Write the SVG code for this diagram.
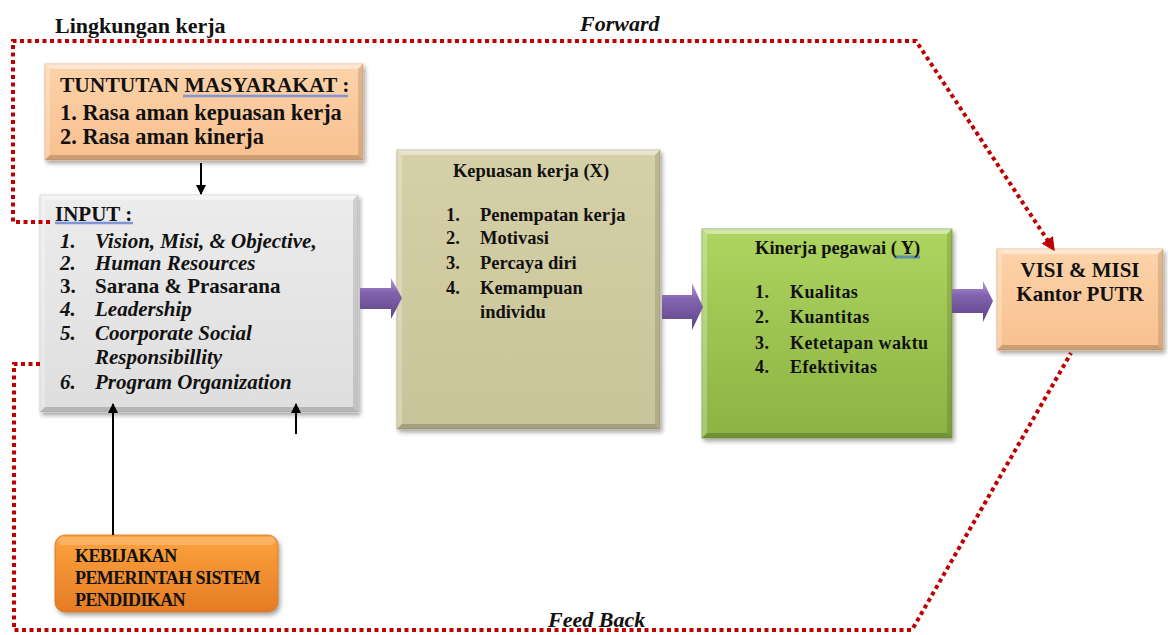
<svg xmlns="http://www.w3.org/2000/svg" width="1168" height="635" viewBox="0 0 1168 635">
  <defs>
    <linearGradient id="gPeach" x1="0" y1="0" x2="0" y2="1">
      <stop offset="0" stop-color="#fcd3aa"/>
      <stop offset="1" stop-color="#f8c08e"/>
    </linearGradient>
    <linearGradient id="gGray" x1="0" y1="0" x2="0" y2="1">
      <stop offset="0" stop-color="#ececec"/>
      <stop offset="1" stop-color="#dedede"/>
    </linearGradient>
    <linearGradient id="gTan" x1="0" y1="0" x2="0" y2="1">
      <stop offset="0" stop-color="#d6d0a8"/>
      <stop offset="1" stop-color="#c9c399"/>
    </linearGradient>
    <linearGradient id="gGreen" x1="0" y1="0" x2="0" y2="1">
      <stop offset="0" stop-color="#add55f"/>
      <stop offset="1" stop-color="#8cb244"/>
    </linearGradient>
    <linearGradient id="gOrange" x1="0" y1="0" x2="0" y2="1">
      <stop offset="0" stop-color="#fda33e"/>
      <stop offset="1" stop-color="#e57c25"/>
    </linearGradient>
    <linearGradient id="gPurple" x1="0" y1="0" x2="0" y2="1">
      <stop offset="0" stop-color="#b197d6"/>
      <stop offset="0.35" stop-color="#8264ae"/>
      <stop offset="1" stop-color="#5e4386"/>
    </linearGradient>
    <filter id="shadow" x="-10%" y="-10%" width="125%" height="130%">
      <feDropShadow dx="2" dy="3" stdDeviation="2" flood-color="#000" flood-opacity="0.35"/>
    </filter>
    <marker id="arrowBlack" viewBox="0 0 10 10" refX="9" refY="5" markerWidth="5" markerHeight="5" orient="auto">
      <path d="M0,0 L10,5 L0,10 z" fill="#000"/>
    </marker>
    <marker id="arrowRed" viewBox="0 0 10 10" refX="9" refY="5" markerWidth="3.4" markerHeight="3.4" orient="auto" markerUnits="strokeWidth">
      <path d="M0,0 L10,5 L0,10 z" fill="#c00000"/>
    </marker>
  </defs>
  <style>
    text { font-family: "Liberation Serif", "Times New Roman", serif; font-weight: bold; fill: #111; }
    .it { font-style: italic; }
    .dots { fill: none; stroke: #c00000; stroke-width: 4; stroke-dasharray: 4 3.5; }
    .link { fill: none; stroke: #000; stroke-width: 2; }
    .hiT { fill: #fff; fill-opacity: 0.45; }
    .hiL { fill: #fff; fill-opacity: 0.25; }
    .loB { fill: #000; fill-opacity: 0.18; }
    .loR { fill: #000; fill-opacity: 0.12; }
    .squig { stroke: #7f95d6; stroke-width: 2.5; fill: none; }
  </style>

  <rect width="1168" height="635" fill="#fff"/>

  <!-- Frame labels -->
  <text x="55" y="33" font-size="22">Lingkungan kerja</text>
  <text x="580" y="31" font-size="22" class="it">Forward</text>
  <text x="548" y="627" font-size="22" class="it">Feed Back</text>

  <!-- Tuntutan masyarakat -->
  <g id="tuntutan">
    <g filter="url(#shadow)">
      <rect x="45" y="64" width="318" height="96" fill="url(#gPeach)" stroke="#e6ad7c" stroke-width="0.8"/>
    </g>
    <polygon class="hiT" points="45,64 363,64 358,69 50,69"/>
    <polygon class="hiL" points="45,64 50,69 50,155 45,160"/>
    <polygon class="loB" points="45,160 50,155 358,155 363,160"/>
    <polygon class="loR" points="363,64 358,69 358,155 363,160"/>
    <line class="squig" x1="183" y1="96" x2="348" y2="96"/>
    <text x="60" y="92" font-size="21.5">TUNTUTAN MASYARAKAT :</text>
    <text x="60" y="120" font-size="22.4">1. Rasa aman kepuasan kerja</text>
    <text x="60" y="144" font-size="22.4">2. Rasa aman kinerja</text>
  </g>

  <!-- Input -->
  <g id="input">
    <g filter="url(#shadow)">
      <rect x="40" y="195" width="318" height="217" fill="url(#gGray)" stroke="#c8c8c8" stroke-width="0.8"/>
    </g>
    <polygon class="hiT" points="40,195 358,195 353,200 45,200"/>
    <polygon class="hiL" points="40,195 45,200 45,407 40,412"/>
    <polygon class="loB" points="40,412 45,407 353,407 358,412"/>
    <polygon class="loR" points="358,195 353,200 353,407 358,412"/>
    <line class="squig" x1="55" y1="223" x2="133" y2="223"/>
    <text x="55" y="221" font-size="21">INPUT :</text>
    <g font-size="21">
      <text x="60" y="248" class="it">1.</text><text x="95" y="248" class="it">Vision, Misi, &amp; Objective,</text>
      <text x="60" y="270" class="it">2.</text><text x="95" y="270" class="it">Human Resources</text>
      <text x="60" y="293">3.</text><text x="95" y="293">Sarana &amp; Prasarana</text>
      <text x="60" y="316" class="it">4.</text><text x="95" y="316" class="it">Leadership</text>
      <text x="60" y="340" class="it">5.</text><text x="95" y="340" class="it">Coorporate Social</text>
      <text x="95" y="364" class="it">Responsibillity</text>
      <text x="60" y="389" class="it">6.</text><text x="95" y="389" class="it">Program Organization</text>
    </g>
  </g>

  <!-- Kepuasan kerja -->
  <g id="kepuasan">
    <g filter="url(#shadow)">
      <rect x="397" y="150" width="263" height="279" fill="url(#gTan)" stroke="#aea77e" stroke-width="0.8"/>
    </g>
    <polygon class="hiT" points="397,150 660,150 655,155 402,155"/>
    <polygon class="hiL" points="397,150 402,155 402,424 397,429"/>
    <polygon class="loB" points="397,429 402,424 655,424 660,429"/>
    <polygon class="loR" points="660,150 655,155 655,424 660,429"/>
    <text x="531" y="177" font-size="18.5" text-anchor="middle">Kepuasan kerja (X)</text>
    <g font-size="18.5">
      <text x="446" y="221">1.</text><text x="480" y="221">Penempatan kerja</text>
      <text x="446" y="244">2.</text><text x="480" y="244">Motivasi</text>
      <text x="446" y="269">3.</text><text x="480" y="269">Percaya diri</text>
      <text x="446" y="294">4.</text><text x="480" y="294">Kemampuan</text>
      <text x="480" y="318">individu</text>
    </g>
  </g>

  <!-- Kinerja pegawai -->
  <g id="kinerja">
    <g filter="url(#shadow)">
      <rect x="702" y="229" width="250" height="209" fill="url(#gGreen)" stroke="#7a9c3c" stroke-width="0.8"/>
    </g>
    <polygon class="hiT" points="702,229 952,229 947,234 707,234"/>
    <polygon class="hiL" points="702,229 707,234 707,433 702,438"/>
    <polygon class="loB" points="702,438 707,433 947,433 952,438"/>
    <polygon class="loR" points="952,229 947,234 947,433 952,438"/>
    <line x1="894" y1="257" x2="920" y2="257" stroke="#5f8fa8" stroke-width="3"/>
    <text x="755" y="254" font-size="18.5">Kinerja pegawai ( Y)</text>
    <g font-size="18" letter-spacing="0.4">
      <text x="755" y="298">1.</text><text x="790" y="298">Kualitas</text>
      <text x="755" y="323">2.</text><text x="790" y="323">Kuantitas</text>
      <text x="755" y="349">3.</text><text x="790" y="349">Ketetapan waktu</text>
      <text x="755" y="373">4.</text><text x="790" y="373">Efektivitas</text>
    </g>
  </g>

  <!-- Visi & Misi -->
  <g id="visi">
    <g filter="url(#shadow)">
      <rect x="997" y="249" width="166" height="101" fill="url(#gPeach)" stroke="#e6ad7c" stroke-width="0.8"/>
    </g>
    <polygon class="hiT" points="997,249 1163,249 1158,254 1002,254"/>
    <polygon class="hiL" points="997,249 1002,254 1002,345 997,350"/>
    <polygon class="loB" points="997,350 1002,345 1158,345 1163,350"/>
    <polygon class="loR" points="1163,249 1158,254 1158,345 1163,350"/>
    <text x="1080" y="277" font-size="21" text-anchor="middle">VISI &amp; MISI</text>
    <text x="1080" y="301" font-size="21" text-anchor="middle">Kantor PUTR</text>
  </g>

  <!-- Kebijakan pemerintah -->
  <g id="kebijakan">
    <g filter="url(#shadow)">
      <rect x="55" y="535" width="223" height="77" rx="10" ry="10" fill="url(#gOrange)" stroke="#d27020" stroke-width="0.8"/>
    </g>
    <rect x="58" y="537" width="217" height="8" rx="5" fill="#fff" fill-opacity="0.2"/>
    <g font-size="18" letter-spacing="-0.6">
      <text x="75" y="562">KEBIJAKAN</text>
      <text x="75" y="584">PEMERINTAH SISTEM</text>
      <text x="75" y="606">PENDIDIKAN</text>
    </g>
  </g>

  <!-- Connectors -->
  <g id="connectors">
    <!-- forward / feedback loop -->
    <path class="dots" d="M50,222 H13 V41 H916 L1054,250" marker-end="url(#arrowRed)"/>
    <path class="dots" d="M40,364 H14 V630 H912 L1071,353"/>

    <!-- black arrows -->
    <line class="link" x1="201" y1="163" x2="201" y2="194" marker-end="url(#arrowBlack)"/>
    <line class="link" x1="113" y1="535" x2="113" y2="404" marker-end="url(#arrowBlack)"/>
    <line class="link" x1="296" y1="434" x2="296" y2="404" marker-end="url(#arrowBlack)"/>

    <!-- block arrows between stages -->
    <path fill="url(#gPurple)" d="M360,288 H391 V278 L402,298 L391,319 V309 H360 Z"/>
    <path fill="url(#gPurple)" d="M662,295 H692 V283 L703,307 L692,330 V319 H662 Z"/>
    <path fill="url(#gPurple)" d="M952,289 H983 V281 L993,301 L983,322 V313 H952 Z"/>
  </g>
</svg>
